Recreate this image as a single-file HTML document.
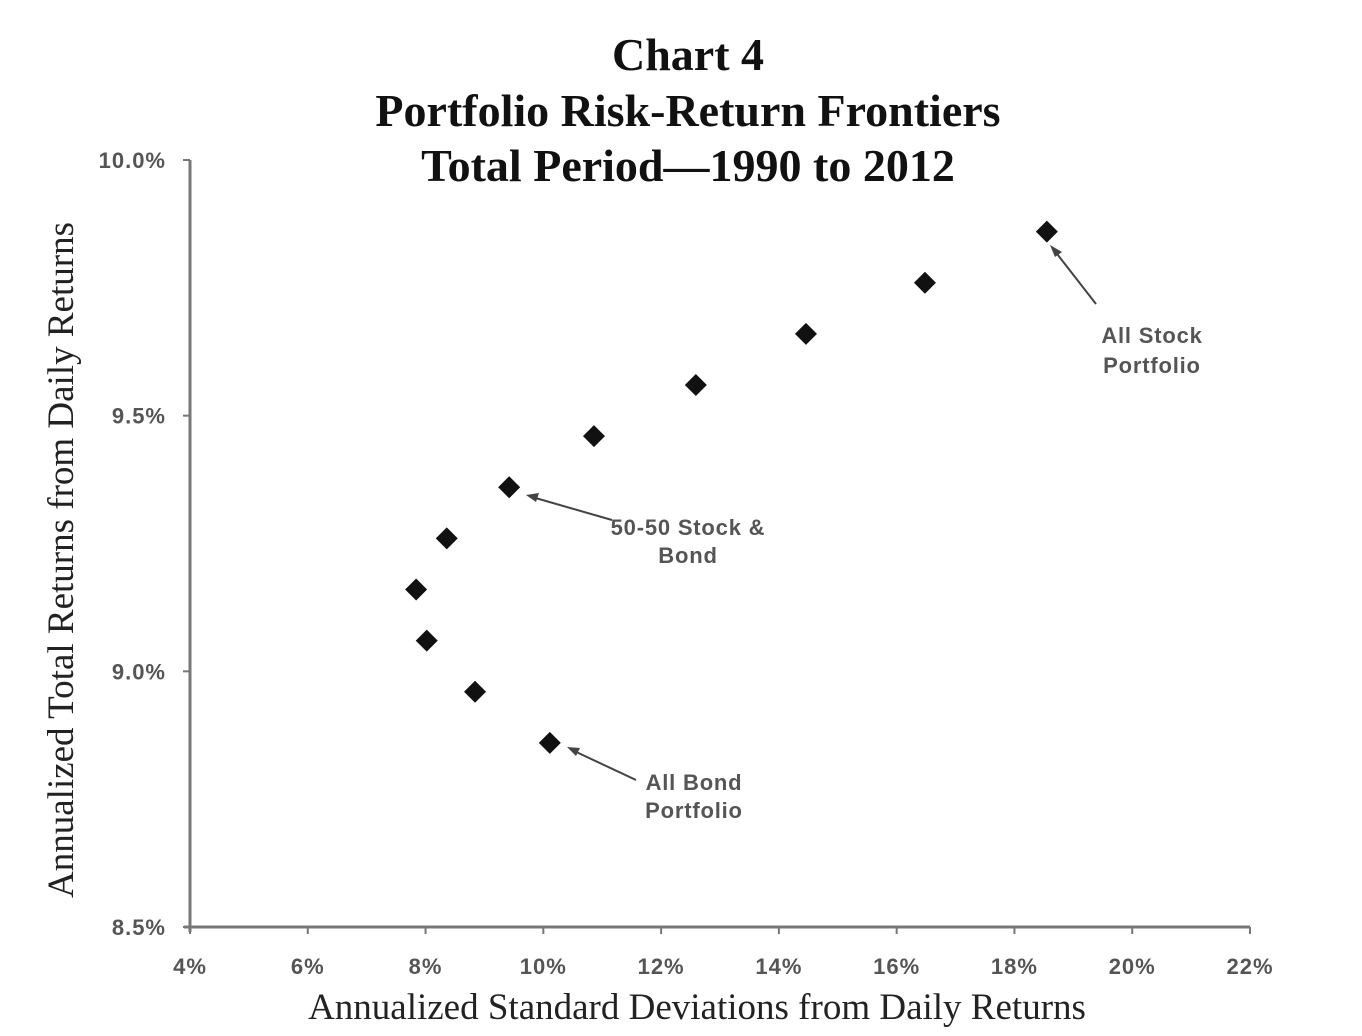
<!DOCTYPE html>
<html><head><meta charset="utf-8"><style>
body{margin:0;background:#fff;}
svg{display:block;}
.t{font-family:"Liberation Serif",serif;font-weight:bold;font-size:46px;fill:#111;text-anchor:middle;}
.tick{font-family:"Liberation Sans",sans-serif;font-weight:bold;font-size:22px;letter-spacing:1px;fill:#555;}
.ann{font-family:"Liberation Sans",sans-serif;font-weight:bold;font-size:22px;letter-spacing:0.8px;fill:#555;text-anchor:middle;}
.ax{font-family:"Liberation Serif",serif;font-size:37px;fill:#222;text-anchor:middle;}
</style></head><body>
<svg id="chart" width="1362" height="1036">
<text class="t" x="688" y="70">Chart 4</text>
<text class="t" x="688" y="126">Portfolio Risk-Return Frontiers</text>
<text class="t" x="688" y="181">Total Period—1990 to 2012</text>
<g id="axes"></g>
<g id="marks"></g>
<g>
<line x1="1096" y1="304" x2="1054" y2="250" stroke="#444" stroke-width="2"/>
<polygon points="1050,245 1062,252 1055,257" fill="#444"/>
<text class="ann" x="1152" y="343">All Stock</text>
<text class="ann" x="1152" y="373">Portfolio</text>
<line x1="612" y1="520" x2="532" y2="497" stroke="#444" stroke-width="2"/>
<polygon points="526,495 539,493 536,502" fill="#444"/>
<text class="ann" x="688" y="535">50-50 Stock &amp;</text>
<text class="ann" x="688" y="563">Bond</text>
<line x1="636" y1="780" x2="572" y2="750" stroke="#444" stroke-width="2"/>
<polygon points="567,747 580,748 576,756" fill="#444"/>
<text class="ann" x="694" y="790">All Bond</text>
<text class="ann" x="694" y="818">Portfolio</text>
</g>
<text class="ax" x="697" y="1019">Annualized Standard Deviations from Daily Returns</text>
<text class="ax" transform="translate(73,560) rotate(-90)">Annualized Total Returns from Daily Returns</text>
</svg>
<script>
const xTicks=[4,6,8,10,12,14,16,18,20,22];
const yTicks=[8.5,9.0,9.5,10.0];
const stdDev=[18.55,16.48,14.46,12.59,10.86,9.42,8.36,7.84,8.02,8.84,10.11];
const totalReturn=[9.86,9.76,9.66,9.56,9.46,9.36,9.26,9.16,9.06,8.96,8.86];
const NS="http://www.w3.org/2000/svg";
const X=v=>190+(v-4)*(1250-190)/18;
const Y=v=>927-(v-8.5)*(927-160)/1.5;
function mk(t,a,p){const e=document.createElementNS(NS,t);for(const k in a)e.setAttribute(k,a[k]);p.appendChild(e);return e;}
const ax=document.getElementById('axes');
const xl=mk('line',{x1:184,y1:927,x2:1250,y2:927,stroke:'#777','stroke-width':3},ax);


const yl=mk('line',{x1:190,y1:160,x2:190,y2:932,stroke:'#777','stroke-width':3},ax);


xTicks.forEach(v=>{
 mk('line',{x1:X(v),y1:927,x2:X(v),y2:934,stroke:'#777','stroke-width':2},ax);
 const t=mk('text',{x:X(v),y:974,'text-anchor':'middle',class:'tick'},ax);t.textContent=v+'%';
 
 
});
yTicks.forEach(v=>{
 mk('line',{x1:183,y1:Y(v),x2:190,y2:Y(v),stroke:'#777','stroke-width':2},ax);
 const t=mk('text',{x:166,y:Y(v)+8,'text-anchor':'end',class:'tick'},ax);t.textContent=v.toFixed(1)+'%';
 
 
});
const mg=document.getElementById('marks');
stdDev.forEach((s,i)=>{
 const cx=X(s),cy=Y(totalReturn[i]),r=11;
 const p=mk('polygon',{points:`${cx},${cy-r} ${cx+r},${cy} ${cx},${cy+r} ${cx-r},${cy}`,fill:'#111'},mg);
 
 
});
</script>
</body></html>
